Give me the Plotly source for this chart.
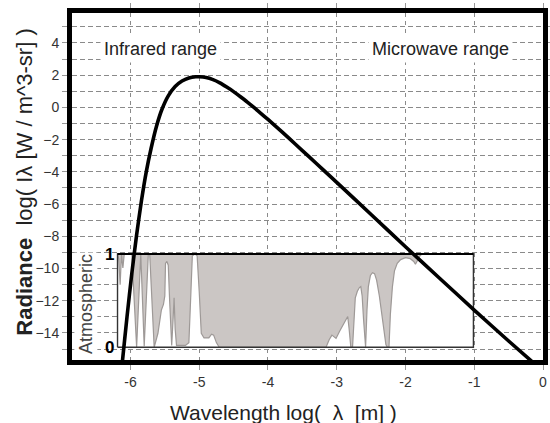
import plotly.graph_objects as go

# ---------------- data ----------------
# Black radiance curve: log10(wavelength [m]) vs log10(radiance)
WL_LOG = [-6.14, -6.12, -6.05, -5.98, -5.91, -5.84, -5.77, -5.70, -5.62, -5.54,
          -5.45, -5.35, -5.25, -5.15, -5.05, -5.00, -4.90, -4.80, -4.70, -4.60,
          -4.50, -4.40, -4.30, -4.20, -4.10, -4.00, -3.80, -3.60, -3.40, -3.20,
          -3.00, -2.50, -2.00, -1.50, -1.00, -0.50, -0.10]
RAD_LOG = [-16.7, -15.9, -13.0, -10.3, -7.9, -5.8, -4.0, -2.55, -1.15, -0.1,
           0.72, 1.3, 1.64, 1.83, 1.9, 1.9, 1.85, 1.72, 1.52, 1.26,
           0.98, 0.66, 0.33, -0.02, -0.38, -0.75, -1.5, -2.29, -3.07, -3.86,
           -4.65, -6.65, -8.65, -10.62, -12.58, -14.5, -16.0]

# Atmospheric transmittance (0..1) vs log10(wavelength)
ATM_WL_LOG = [-6.188, -6.17, -6.15, -6.13, -6.11, -6.09, -5.98, -5.91, -5.85, -5.80,
              -5.74, -5.72, -5.655, -5.60, -5.55, -5.52, -5.50, -5.49, -5.47, -5.45,
              -5.43, -5.40, -5.38, -5.365, -5.35, -5.33, -5.20, -5.15, -5.12, -5.10,
              -5.06, -5.03, -5.00, -4.97, -4.93, -4.86, -4.82, -4.79, -4.75, -4.71,
              -3.155, -3.11, -3.07, -3.04, -3.01, -2.96, -2.90, -2.84, -2.82, -2.795,
              -2.77, -2.75, -2.73, -2.70, -2.67, -2.65, -2.63, -2.61, -2.59, -2.58,
              -2.56, -2.54, -2.51, -2.48, -2.45, -2.42, -2.38, -2.34, -2.31, -2.285,
              -2.265, -2.24, -2.22, -2.19, -2.16, -2.12, -2.07, -2.00, -1.93, -1.88,
              -1.855, -1.83, -1.79, -1.76, -1.012]
ATM_TRANS = [1.0, 0.95, 0.67, 1.0, 0.85, 1.0, 1.0, 0.0, 1.0, 0.01,
             1.0, 1.0, 0.0, 0.15, 0.40, 0.46, 0.55, 0.90, 0.92, 0.88,
             0.50, 0.02, 0.30, 0.53, 0.20, 0.02, 0.02, 0.05, 0.60, 0.98,
             1.0, 0.98, 0.60, 0.15, 0.10, 0.10, 0.14, 0.13, 0.05, 0.0,
             0.0, 0.08, 0.13, 0.11, 0.095, 0.17, 0.25, 0.33, 0.20, 0.0,
             0.0, 0.35, 0.53, 0.60, 0.64, 0.65, 0.55, 0.30, 0.0, 0.0,
             0.40, 0.65, 0.77, 0.80, 0.79, 0.72, 0.55, 0.35, 0.15, 0.03,
             0.0, 0.0, 0.35, 0.65, 0.82, 0.90, 0.94, 0.96, 0.95, 0.92,
             0.89, 0.93, 0.98, 1.0, 1.0]

X_TICKS = [-6, -5, -4, -3, -2, -1, 0]
X_TICK_TEXT = ["-6", "-5", "-4", "-3", "-2", "-1", "0"]
Y_TICKS = [4, 2, 0, -2, -4, -6, -8, -10, -12, -14]
INSET_TICKS = [0, 1]
INSET_TICK_TEXT = ["<b>0</b>", "<b>1</b>"]

RANGE_LABELS = ["Infrared range", "Microwave range"]
RANGE_LABEL_X = [-5.57, -1.49]
RANGE_LABEL_Y = [3.63, 3.63]

assert len(WL_LOG) == len(RAD_LOG)
assert len(ATM_WL_LOG) == len(ATM_TRANS)

# ---------------- layout constants ----------------
X_RANGE = [-6.85, 0.0]
Y_RANGE = [-15.68, 5.86]
INSET_BOTTOM, INSET_TOP = -14.89, -9.10   # radiance-axis level of transmittance 0 and 1
span = INSET_TOP - INSET_BOTTOM
Y2_RANGE = [(Y_RANGE[0] - INSET_BOTTOM) / span, (Y_RANGE[1] - INSET_BOTTOM) / span]
ix0, ix1 = min(ATM_WL_LOG), max(ATM_WL_LOG)
inset_pos = (ix0 - X_RANGE[0]) / (X_RANGE[1] - X_RANGE[0])

GRID = "#8a8a8a"
FONT = "Liberation Sans, Arial, sans-serif"

fig = go.Figure()
fig.add_trace(go.Scatter(x=[], y=[], xaxis="x", yaxis="y", showlegend=False))

# inset white background (covers grid)
fig.add_trace(go.Scatter(x=[ix0, ix1, ix1, ix0, ix0], y=[0, 0, 1, 1, 0],
                         xaxis="x", yaxis="y2", fill="toself", fillcolor="white",
                         mode="lines", line=dict(width=0), showlegend=False, hoverinfo="skip"))
fig.add_trace(go.Scatter(x=[ix0, ix1], y=[1, 1], xaxis="x", yaxis="y2",
                         mode="lines", line=dict(color="black", width=2),
                         showlegend=False, hoverinfo="skip"))
fig.add_trace(go.Scatter(x=ATM_WL_LOG, y=ATM_TRANS, xaxis="x", yaxis="y2",
                         mode="lines", fill="tonexty", fillcolor="#cbc6c4",
                         line=dict(color="#9e9997", width=1.2),
                         showlegend=False, hoverinfo="skip"))
fig.add_trace(go.Scatter(x=[ix0, ix1, ix1, ix0, ix0], y=[0, 0, 1, 1, 0],
                         xaxis="x", yaxis="y2", mode="lines",
                         line=dict(color="#333333", width=1.4),
                         showlegend=False, hoverinfo="skip"))
fig.add_trace(go.Scatter(x=[ix0, ix1], y=[1, 1], xaxis="x", yaxis="y2",
                         mode="lines", line=dict(color="black", width=2),
                         showlegend=False, hoverinfo="skip"))
fig.add_trace(go.Scatter(x=WL_LOG, y=RAD_LOG, xaxis="x", yaxis="y3",
                         mode="lines", line=dict(color="black", width=3.6, shape="spline", smoothing=0.5),
                         showlegend=False))

fig.update_layout(
    width=550, height=423,
    margin=dict(l=72, r=7, t=13, b=63),
    paper_bgcolor="white", plot_bgcolor="white",
    font=dict(family=FONT, color="#222"),
    xaxis=dict(range=X_RANGE, tickvals=X_TICKS, ticktext=X_TICK_TEXT, automargin=False,
               showgrid=True, gridcolor=GRID, gridwidth=1, griddash="4px,4px",
               showline=True, linewidth=5, linecolor="black", mirror="allticks",
               ticks="outside", ticklen=5, tickcolor="#999", tickwidth=1,
               zeroline=False, tickfont=dict(size=14, color="#333")),
    yaxis=dict(range=Y_RANGE, tickvals=Y_TICKS, automargin=False,
               showgrid=True, gridcolor=GRID, gridwidth=1, griddash="5px,3px",
               minor=dict(tickmode="linear", tick0=0, dtick=1, showgrid=True,
                          gridcolor=GRID, griddash="5px,3px", gridwidth=1,
                          ticks="outside", ticklen=5, tickcolor="#999"),
               showline=True, linewidth=5, linecolor="black", mirror="allticks",
               ticks="outside", ticklen=5, tickcolor="#999", tickwidth=1,
               zeroline=False, tickfont=dict(size=14, color="#333")),
    yaxis2=dict(overlaying="y", range=Y2_RANGE, anchor="free", position=inset_pos,
                side="left", tickvals=INSET_TICKS, ticktext=INSET_TICK_TEXT, automargin=False,
                showgrid=False, zeroline=False, showline=False, ticks="",
                ticklabelstandoff=3, tickfont=dict(size=17, color="black")),
    yaxis3=dict(overlaying="y", range=Y_RANGE, visible=False),
)

for txt, lx, ly in zip(RANGE_LABELS, RANGE_LABEL_X, RANGE_LABEL_Y):
    fig.add_annotation(x=lx, y=ly, xref="x", yref="y", text=txt, showarrow=False,
                       xanchor="center", yanchor="middle",
                       font=dict(size=18, color="#222"), bgcolor="white", borderpad=3)

fig.add_annotation(x=0.0297, y=0.161, xref="paper", yref="paper", text="Atmospheric",
                   textangle=-90, showarrow=False, xanchor="center", yanchor="middle",
                   font=dict(size=18, color="#444"), bgcolor="white", borderpad=1)
fig.add_annotation(x=0.448, y=-0.150, xref="paper", yref="paper",
                   text="Wavelength log(  λ  [m] )", showarrow=False,
                   xanchor="center", yanchor="middle",
                   font=dict(size=21, color="#222"))
fig.add_annotation(x=-0.0998, y=0.514, xref="paper", yref="paper",
                   text="<b>Radiance</b>  log( Iλ [W / m^3-sr] )", textangle=-90,
                   showarrow=False, xanchor="center", yanchor="middle",
                   font=dict(size=22, color="#222"))

fig.write_html("out.html")
